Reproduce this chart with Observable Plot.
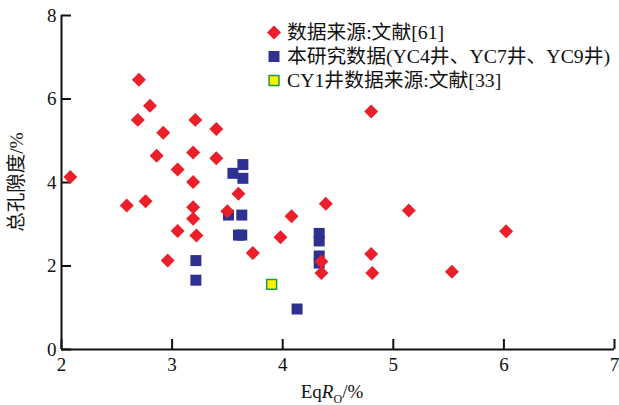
<!DOCTYPE html>
<html><head><meta charset="utf-8">
<script src="https://cdn.jsdelivr.net/npm/d3@7"></script>
<script src="https://cdn.jsdelivr.net/npm/@observablehq/plot@0.6"></script>
<style>body{margin:0;background:#fff}</style>
</head><body><div id="chart"></div>
<script>
// 数据来源:文献[61]
const litX = [2.08,2.59,2.70,2.69,2.76,2.80,2.86,2.92,2.96,3.05,3.05,3.19,3.19,3.19,3.19,3.21,3.22,3.40,3.40,3.50,3.60,3.73,3.98,4.08,4.35,4.35,4.39,4.80,4.80,4.81,5.14,5.53,6.02];
const litY = [4.13,3.45,6.46,5.50,3.55,5.84,4.64,5.19,2.13,4.31,2.84,4.72,4.01,3.41,3.13,5.50,2.73,5.28,4.58,3.31,3.73,2.31,2.69,3.19,2.11,1.83,3.49,5.70,2.29,1.83,3.33,1.86,2.83];
// 本研究数据(YC4井、YC7井、YC9井)
const oursX = [3.215,3.215,3.55,3.64,3.64,3.51,3.63,3.60,3.63,4.13,4.33,4.33,4.33,4.33];
const oursY = [2.13,1.66,4.22,4.43,4.10,3.22,3.22,2.74,2.74,0.97,2.78,2.60,2.24,2.07];
// CY1井数据来源:文献[33]
const cy1X = [3.90];
const cy1Y = [1.56];

const xTicks = [2,3,4,5,6,7];
const yTicks = [0,2,4,6,8];
const legendLabels = ["数据来源:文献[61]","本研究数据(YC4井、YC7井、YC9井)","CY1井数据来源:文献[33]"];

const RED = "#ea1f29", BLUE = "#2e3192", YELLOW = "#fff200", GREEN = "#1f9a48";
const FONT = "'Liberation Serif','Times New Roman',Times,'DejaVu Serif','Noto Sans CJK SC',serif";

const lit = litX.map((x,i)=>({x, y: litY[i]}));
const ours = oursX.map((x,i)=>({x, y: oursY[i]}));
const cy1 = cy1X.map((x,i)=>({x, y: cy1Y[i]}));

const chart = Plot.plot({
  width: 619, height: 405,
  marginLeft: 61, marginRight: 5, marginTop: 15, marginBottom: 56,
  style: {fontFamily: FONT, fontSize: "19px", color: "#111", background: "#fff"},
  x: {domain: [2,7], label: null},
  y: {domain: [0,8], label: null},
  marks: [
    Plot.axisX({ticks: xTicks, tickFormat: d3.format("d"), tickSize: -10, tickPadding: 18, strokeWidth: 2, label: null}),
    Plot.axisY({ticks: yTicks, tickFormat: d3.format("d"), tickSize: -10, tickPadding: 15, strokeWidth: 2, label: null}),
    Plot.ruleX([2], {strokeWidth: 2}),
    Plot.ruleY([0], {strokeWidth: 2}),
    Plot.dot(ours, {x: "x", y: "y", symbol: "square", r: 6.2, fill: BLUE}),
    Plot.dot(lit, {x: "x", y: "y", symbol: "diamond2", r: 6.3, fill: RED}),
    Plot.dot(cy1, {x: "x", y: "y", symbol: "square", r: 5.6, fill: YELLOW, stroke: GREEN, strokeWidth: 1.5})
  ]
});
document.getElementById("chart").append(chart);

const svg = d3.select(chart);
svg.selectAll("text").style("font-family", FONT);
// axis titles
const xt = svg.append("text").attr("x", 332).attr("y", 398).attr("text-anchor", "middle")
  .style("font-family", FONT).attr("font-size", 19).attr("fill", "#111");
xt.append("tspan").text("Eq");
xt.append("tspan").attr("font-style", "italic").text("R");
xt.append("tspan").attr("font-size", 12).attr("dy", 5).text("O");
xt.append("tspan").attr("dy", -5).text("/%");

svg.append("text").attr("transform", "translate(16,182) rotate(-90)")
  .attr("text-anchor", "middle").attr("dy", "0.35em")
  .style("font-family", FONT).attr("font-size", 19.5).attr("fill", "#111")
  .text("总孔隙度/%");

// legend
const lg = svg.append("g").style("font-family", FONT).attr("font-size", 19.8).attr("fill", "#111").attr("text-anchor", "start");
const rows = [
  {sym: d3.symbolDiamond2, size: Math.PI*6.3*6.3, fill: RED, stroke: "none"},
  {sym: d3.symbolSquare, size: Math.PI*6.2*6.2, fill: BLUE, stroke: "none"},
  {sym: d3.symbolSquare, size: Math.PI*5.6*5.6, fill: YELLOW, stroke: GREEN}
];
rows.forEach((r, i) => {
  const cy = 32.5 + i*24;
  lg.append("path").attr("d", d3.symbol(r.sym, r.size)()).attr("transform", `translate(274,${cy})`)
    .attr("fill", r.fill).attr("stroke", r.stroke).attr("stroke-width", 1.5);
  lg.append("text").attr("x", 287).attr("y", cy).attr("dy", "0.35em").attr("text-anchor", "start").text(legendLabels[i]);
});
</script>
</body></html>
